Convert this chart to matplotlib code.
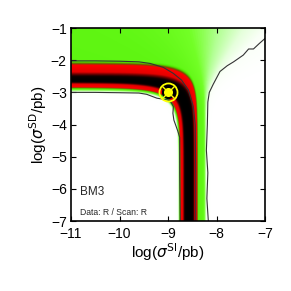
import numpy as np
import matplotlib
matplotlib.use("Agg")
import matplotlib.pyplot as plt
from matplotlib.colors import LinearSegmentedColormap

plt.rcParams['font.family'] = ['Liberation Sans', 'DejaVu Sans']

# benchmark point
bm_x = -9.0
bm_y = -3.0

# where the degenerate band sits
band_x0 = -8.58      # vertical arm, log(sigma_SI)
band_y0 = -2.62      # horizontal arm, log(sigma_SD)
width_up_si = 0.15
width_up_sd = 0.38
width_lo_si = 0.15
width_lo_sd = 0.17
plateau_level = 0.27

# right edge of the green plateau
edge_x = -8.2
edge_knee_y = -2.8
edge_slope = 0.76

# contour lines
inner_up_x = [-11.0, -10.5, -10.0, -9.6, -9.37, -9.1, -8.89, -8.72, -8.58, -8.48, -8.44, -8.43, -8.43]
inner_up_y = [-2.02, -2.02, -2.03, -2.05, -2.10, -2.22, -2.41, -2.62, -2.93, -3.44, -4.0, -5.5, -7.0]

inner_lo_x = [-11.0, -10.5, -10.0, -9.6, -9.44, -9.23, -8.99, -8.93, -8.89, -8.90, -8.88, -8.80, -8.76, -8.76, -8.75]
inner_lo_y = [-3.0, -3.0, -3.01, -3.02, -3.06, -3.18, -3.24, -3.33, -3.44, -3.65, -3.86, -4.2, -4.4, -5.5, -7.0]

outer_x = [-8.17, -8.20, -8.18, -8.21, -8.19, -8.18, -8.15, -8.07, -7.93, -7.78, -7.65, -7.45, -7.34, -7.24, -7.12, -7.0]
outer_y = [-7.0, -6.3, -5.5, -4.8, -4.0, -3.3, -3.0, -2.75, -2.35, -2.17, -2.05, -1.84, -1.65, -1.65, -1.48, -1.32]

xticks = [-11, -10, -9, -8, -7]
yticks = [-7, -6, -5, -4, -3, -2, -1]

# colour scale: white -> green -> red -> black
cmap = LinearSegmentedColormap.from_list("wgrk", [
    (0.00, (1.0, 1.0, 1.0)),
    (0.07, (0.98, 1.0, 0.97)),
    (0.11, (0.90, 1.0, 0.86)),
    (0.16, (0.70, 1.0, 0.58)),
    (0.21, (0.45, 1.0, 0.15)),
    (0.32, (0.30, 0.93, 0.0)),
    (0.40, (0.45, 0.30, 0.0)),
    (0.46, (1.0, 0.0, 0.0)),
    (0.80, (0.90, 0.0, 0.0)),
    (0.88, (0.45, 0.0, 0.0)),
    (0.95, (0.05, 0.0, 0.0)),
    (1.00, (0.0, 0.0, 0.0)),
])

# likelihood-like surface
X, Y = np.meshgrid(np.linspace(-11, -7, 500), np.linspace(-7, -1, 500))
p = 10 ** (X - band_x0)
q = 10 ** (Y - band_y0)
u = np.log10(p + q)
th = q / (p + q)
s_up = width_up_si * (1 - th) + width_up_sd * th
s_lo = width_lo_si * (1 - th) + width_lo_sd * th
k = 4.0 * (1 - th) + 2.0 * th
z = np.where(u > 0, u / s_up, -u / s_lo)
peak = np.exp(-0.5 * z ** k)

sp = 0.3 * np.log1p(np.exp((Y - edge_knee_y) / 0.3))
xc = edge_x + edge_slope * sp
w = 0.02 + 0.5 * edge_slope * sp
xe = xc - 1.2 * w - 0.01
plateau = plateau_level / (1 + np.exp((X - xe) / w))
above = 1 / (1 + np.exp(-u / 0.03))
L = np.maximum(peak, plateau * above)

fig = plt.figure(figsize=(2.91, 2.91), dpi=100)
ax = fig.add_axes([0.244, 0.2405, 0.667, 0.663])
ax.imshow(L, origin="lower", extent=[-11, -7, -7, -1], aspect="auto",
          cmap=cmap, vmin=0, vmax=1, interpolation="bilinear")

line_kw = dict(color="0.2", lw=0.8)
ax.plot(inner_up_x, inner_up_y, **line_kw)
ax.plot(inner_lo_x, inner_lo_y, **line_kw)
ax.plot(outer_x, outer_y, **line_kw)

# benchmark marker
ax.plot(bm_x, bm_y, "o", ms=13, mfc="none", mec="yellow", mew=1.3)
ax.plot(bm_x, bm_y, "o", ms=8.5, mfc="black", mec="black")
ax.plot(bm_x, bm_y, "o", ms=5.5, mfc="yellow", mec="yellow")
ax.plot(bm_x, bm_y, "x", ms=8.5, mec="yellow", mew=1.0)

ax.text(-10.82, -6.2, "BM3", fontsize=8.5, color="0.15")
ax.text(-10.82, -6.8, "Data: R / Scan: R", fontsize=6.2, color="0.15")

ax.set_xlim(-11, -7)
ax.set_ylim(-7, -1)
ax.set_xticks(xticks)
ax.set_yticks(yticks)
ax.set_xticklabels(["\u2212%d" % abs(t) for t in xticks])
ax.set_yticklabels(["\u2212%d" % abs(t) for t in yticks])
ax.tick_params(direction="in", length=3.5, width=0.8, top=True, right=True,
               labelsize=10)
ax.tick_params(axis="x", pad=4.5)
ax.tick_params(axis="y", pad=3)
for sp_ in ax.spines.values():
    sp_.set_linewidth(1.2)

ax.set_xlabel(r"log($\sigma^{\rm SI}$/pb)", fontsize=11, labelpad=0)
ax.set_ylabel(r"log($\sigma^{\rm SD}$/pb)", fontsize=11, labelpad=1)

fig.savefig("out.png", dpi=100)
